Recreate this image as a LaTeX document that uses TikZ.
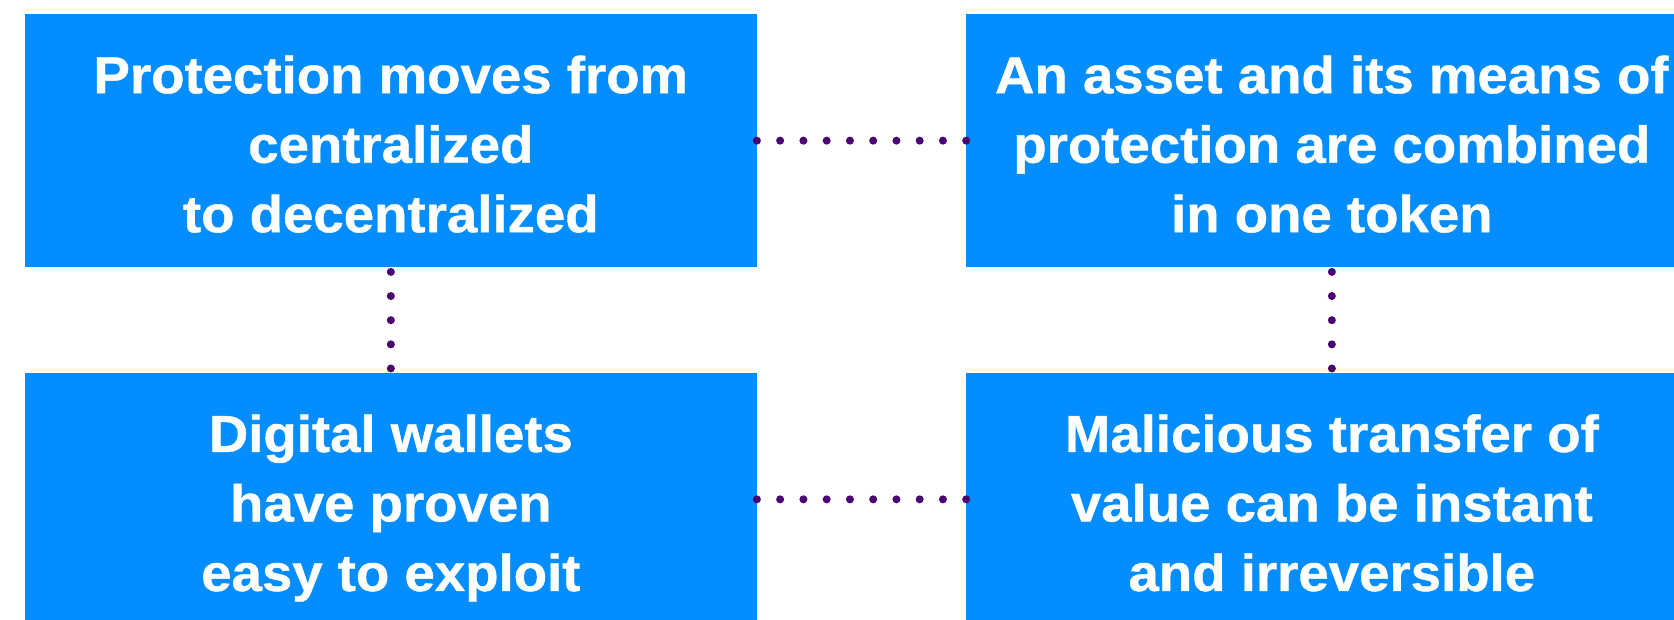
\documentclass[tikz,border=0pt]{standalone}
\usepackage{fontspec}
\setmainfont{Liberation Sans}
\newfontfamily\cardfont{Liberation Sans Bold}[FakeStretch=1.05, FakeBold=0.8]
\newcommand\topstrut{\rule{0pt}{58.2pt}}
\newcommand\botstrut{\rule[-14pt]{0pt}{14pt}}
\definecolor{boxblue}{HTML}{038DFE}
\definecolor{dotpurple}{HTML}{4A0073}
\begin{document}
\begin{tikzpicture}[x=1pt,y=-1pt,
  card/.style={fill=boxblue, draw=none, minimum width=731.7pt, minimum height=253.3pt,
    inner sep=0pt, text=white, align=center,
    font=\fontsize{52}{69.5}\selectfont\cardfont},
  dotline/.style={draw=dotpurple, line width=8pt, line cap=round,
    dash pattern=on 0pt off 23.255pt, shorten >=-2pt},
  vdotline/.style={draw=dotpurple, line width=8pt, line cap=round,
    dash pattern=on 0pt off 24.15pt, dash phase=19.75pt}]
\useasboundingbox (0,0) rectangle (1674,620);
\node[card] (b1) at (390.85,140.65) {\topstrut Protection moves from\\centralized\\to decentralized\botstrut};
\node[card] (b2) at (1331.85,140.65) {\topstrut An asset and its means of\\protection are combined\\in one token\botstrut};
\node[card] (b3) at (390.85,499.35) {\topstrut Digital wallets\\have proven\\easy to exploit\botstrut};
\node[card] (b4) at (1331.85,499.35) {\topstrut Malicious transfer of\\value can be instant\\and irreversible\botstrut};
\draw[dotline] (b1.east) -- (b2.west);
\draw[dotline] (b3.east) -- (b4.west);
\draw[vdotline] (b1.south) -- (b3.north);
\draw[vdotline] (b2.south) -- (b4.north);
\end{tikzpicture}
\end{document}
